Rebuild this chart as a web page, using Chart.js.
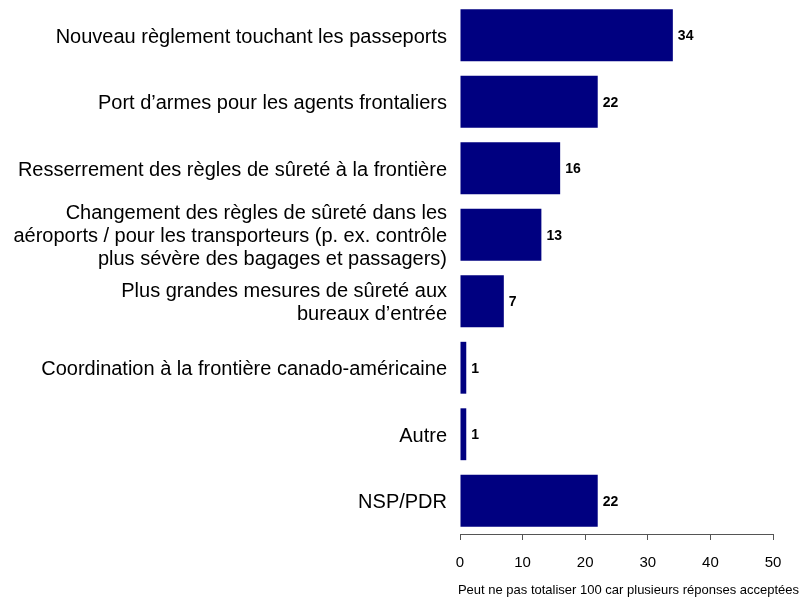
<!DOCTYPE html>
<html>
<head>
<meta charset="utf-8">
<script src="https://cdn.jsdelivr.net/npm/chart.js@4"></script>
<style>
  html, body { margin: 0; padding: 0; background: #fff; }
  #wrap { width: 801px; height: 601px; position: relative; }
</style>
</head>
<body>
<div id="wrap"><canvas id="chart"></canvas></div>
<script>
// Categories (multi-line ones split into arrays) and percentages
const categories = [
    "Nouveau règlement touchant les passeports",
    "Port d’armes pour les agents frontaliers",
    "Resserrement des règles de sûreté à la frontière",
    ["Changement des règles de sûreté dans les", "aéroports / pour les transporteurs (p. ex. contrôle", "plus sévère des bagages et passagers)"],
    ["Plus grandes mesures de sûreté aux", "bureaux d’entrée"],
    "Coordination à la frontière canado-américaine",
    "Autre",
    "NSP/PDR"
];
const values = [34, 22, 16, 13, 7, 1, 1, 22];
const xTicks = [0, 10, 20, 30, 40, 50];
const footnote = "Peut ne pas totaliser 100 car plusieurs réponses acceptées";

const fontFamily = 'Arial, "Liberation Sans", Helvetica, sans-serif';

// value labels at the end of each bar
const valueLabels = {
    id: 'valueLabels',
    afterDatasetsDraw(chart) {
        const ctx = chart.ctx;
        const meta = chart.getDatasetMeta(0);
        ctx.save();
        ctx.font = 'bold 14px ' + fontFamily;
        ctx.fillStyle = '#000';
        ctx.textAlign = 'left';
        ctx.textBaseline = 'middle';
        meta.data.forEach((bar, i) => {
            ctx.fillText(String(values[i]), bar.x + 5, bar.y + 1);
        });
        ctx.restore();
    }
};

// note under the axis, right aligned
const footNote = {
    id: 'footNote',
    afterDraw(chart) {
        const ctx = chart.ctx;
        ctx.save();
        ctx.font = '13px ' + fontFamily;
        ctx.fillStyle = '#000';
        ctx.textAlign = 'right';
        ctx.textBaseline = 'middle';
        ctx.fillText(footnote, chart.width - 2, 590);
        ctx.restore();
    }
};

new Chart(document.getElementById('chart'), {
    type: 'bar',
    data: {
        labels: categories,
        datasets: [{
            data: values,
            backgroundColor: '#000080',
            borderWidth: 0,
            categoryPercentage: 1,
            barPercentage: 0.78
        }]
    },
    options: {
        indexAxis: 'y',
        responsive: true,
        maintainAspectRatio: false,
        animation: false,
        layout: { padding: { top: 2, right: 28, bottom: 0, left: 0 } },
        plugins: {
            legend: { display: false },
            tooltip: { enabled: false }
        },
        scales: {
            x: {
                min: 0,
                max: 50,
                afterBuildTicks(scale) {
                    scale.ticks = xTicks.map(v => ({ value: v }));
                },
                afterFit(scale) {
                    scale.height = 67;
                    scale.paddingLeft = 0;
                    scale.paddingRight = 0;
                },
                grid: {
                    drawOnChartArea: false,
                    drawTicks: true,
                    tickLength: 6,
                    color: '#555'
                },
                border: { display: true, color: '#555', width: 1 },
                ticks: {
                    color: '#000',
                    padding: 14,
                    font: { family: fontFamily, size: 15 }
                }
            },
            y: {
                afterFit(scale) {
                    scale.width = 460;
                    scale.paddingTop = 0;
                    scale.paddingBottom = 0;
                },
                grid: { display: false },
                border: { display: false },
                ticks: {
                    autoSkip: false,
                    color: '#000',
                    padding: 5,
                    labelOffset: 2,
                    font: { family: fontFamily, size: 20, lineHeight: 1.15 }
                }
            }
        }
    },
    plugins: [valueLabels, footNote]
});
</script>
</body>
</html>
